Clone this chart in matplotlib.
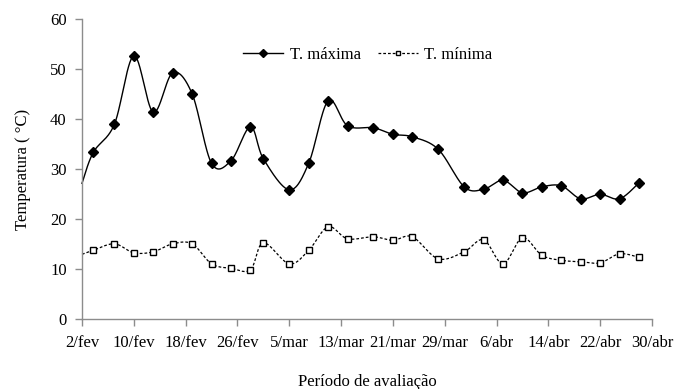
import numpy as np
import matplotlib
matplotlib.use("Agg")
import matplotlib.pyplot as plt
from matplotlib.lines import Line2D

plt.rcParams['font.family'] = ['Liberation Serif', 'DejaVu Serif']

# days since 2/fev (leap year)
days = [0, 1.75, 5, 8, 11, 14, 17, 20, 23, 26, 28, 32, 35, 38, 41, 45, 48, 51,
        55, 59, 62, 65, 68, 71, 74, 77, 80, 83, 86]
t_max = [27.2, 33.4, 39.0, 52.7, 41.4, 49.3, 45.1, 31.2, 31.7, 38.5, 32.1, 25.9,
         31.2, 43.7, 38.7, 38.3, 37.0, 36.5, 34.0, 26.5, 26.0, 27.8, 25.3, 26.5,
         26.7, 24.1, 25.0, 24.1, 27.3]
t_min = [13.0, 13.8, 15.1, 13.3, 13.5, 15.1, 15.1, 11.1, 10.2, 9.9, 15.3, 11.1,
         13.8, 18.5, 16.1, 16.5, 15.8, 16.5, 12.1, 13.5, 15.9, 11.1, 16.3, 12.8,
         11.8, 11.5, 11.3, 13.1, 12.4]
tick_days = [0, 8, 16, 24, 32, 40, 48, 56, 64, 72, 80, 88]
tick_labels = ['2/fev', '10/fev', '18/fev', '26/fev', '5/mar', '13/mar', '21/mar',
               '29/mar', '6/abr', '14/abr', '22/abr', '30/abr']


def smooth(x, y, n=30):
    x = np.asarray(x, float)
    y = np.asarray(y, float)
    P = np.column_stack([x, y])
    out = []
    for i in range(len(P) - 1):
        p0 = P[i - 1] if i > 0 else P[i]
        p1 = P[i]
        p2 = P[i + 1]
        p3 = P[i + 2] if i + 2 < len(P) else P[i + 1]
        c1 = p1 + (p2 - p0) / 6.0
        c2 = p2 - (p3 - p1) / 6.0
        t = np.linspace(0, 1, n)[:, None]
        seg = ((1 - t) ** 3) * p1 + 3 * ((1 - t) ** 2) * t * c1 + 3 * (1 - t) * t ** 2 * c2 + t ** 3 * p2
        out.append(seg if i == 0 else seg[1:])
    s = np.vstack(out)
    return s[:, 0], s[:, 1]


fig = plt.figure(figsize=(6.75, 3.89), dpi=100)
ax = fig.add_axes([82 / 675, 1 - 319.3 / 389, (652 - 82) / 675, (319.3 - 19.3) / 389])

sx, sy = smooth(days, t_max)
ax.plot(sx, sy, color='black', lw=1.0, clip_on=False)
ax.plot(days[1:], t_max[1:], ls='none', marker='D', ms=5.0, color='black', clip_on=False)

mx, my = smooth(days, t_min)
ax.plot(mx, my, color='black', lw=0.9, ls=(0, (2.2, 1.6)), clip_on=False)
ax.plot(days[1:], t_min[1:], ls='none', marker='s', ms=4.2, mfc='white', mec='black',
        mew=1.0, clip_on=False)

ax.set_xlim(0, 88)
ax.set_ylim(0, 60)
ax.set_xticks(tick_days)
ax.set_xticklabels(tick_labels)
ax.set_yticks(range(0, 61, 10))
for s in ['top', 'right']:
    ax.spines[s].set_visible(False)
for s in ['left', 'bottom']:
    ax.spines[s].set_color('#8c8c8c')
    ax.spines[s].set_linewidth(1.0)
ax.tick_params(axis='both', direction='out', length=5, color='#8c8c8c', width=1.0,
               labelsize=12, labelcolor='black')
ax.tick_params(axis='x', pad=6)
ax.tick_params(axis='y', pad=6)

ax.set_ylabel('Temperatura ( \u00b0C)', fontsize=12, labelpad=14)
fig.text(367 / 675, 1 - 382 / 389, 'Período de avaliação', ha='center', va='center', fontsize=12)

h1 = Line2D([], [], color='black', lw=1.0, marker='D', ms=4.0)
h2 = Line2D([], [], color='black', lw=0.9, ls=(0, (2.2, 1.6)), marker='s', ms=3.5,
            mfc='white', mec='black')
ax.legend([h1, h2], ['T. máxima', 'T. mínima'], loc='center', bbox_to_anchor=(368 / 675, 1 - 55 / 389),
          bbox_transform=fig.transFigure, ncol=2, frameon=False, fontsize=12,
          handlelength=2.4, columnspacing=1.0, handletextpad=0.4)

fig.savefig('out.png', dpi=100)
